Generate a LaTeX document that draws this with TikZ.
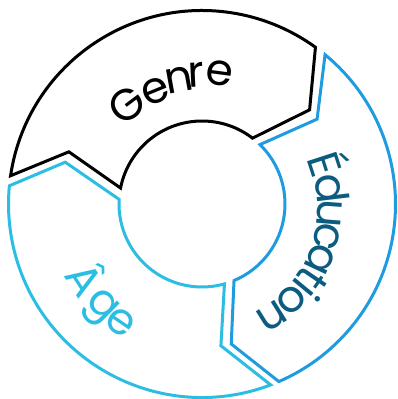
\documentclass[tikz,border=0pt]{standalone}
\usepackage{fontspec}
\newfontfamily\ringfont{Poppins}
\definecolor{educol}{RGB}{31,155,224}
\definecolor{agecol}{RGB}{44,190,226}
\definecolor{edutxt}{RGB}{12,92,128}
\tikzset{
  seg/.style={line width=3pt,line join=miter},
  letter/.style={anchor=base,inner sep=0pt,font=\ringfont\fontsize{44}{44}\selectfont}
}
\begin{document}
\begin{tikzpicture}[x=1pt,y=1pt]
\useasboundingbox (-202,-195) rectangle (196,204);
\draw[seg,black](171.6:193.5)arc[start angle=171.6,end angle=54.1,radius=193.5]--(41.2:143)--(52.5:83)arc[start angle=52.5,end angle=168.9,radius=83]--(158.6:143)--cycle;
\draw[seg,educol](50.5:193.5)arc[start angle=50.5,end angle=-66.6,radius=193.5]--(-78.2:143)--(-67.3:83)arc[start angle=-67.3,end angle=45.7,radius=83]--(36.4:143)--cycle;
\draw[seg,agecol](-69.2:193.5)arc[start angle=-69.2,end angle=-185.4,radius=193.5]--(-197:143)--(-183.2:83)arc[start angle=-183.2,end angle=-74.3,radius=83]--(-82.4:143)--cycle;
\foreach \ch/\ang/\rad [count=\i] in {G/127/109,e/112.3/109.5,n/100.4/114,r/92.8/117,e/82.5/120}
  \node[letter,text=black,rotate=\ang-90](genre\i) at (\ang:\rad){\ch};
\foreach \ch/\ang/\rad [count=\i] in {É/18/114,d/6.8/115,u/-4.4/116,c/-14.6/117,a/-25.2/118,t/-34.2/118.5,i/-39.5/119,o/-47.1/119.5,n/-58/120}
  \node[letter,text=edutxt,rotate=\ang-90](edu\i) at (\ang:\rad){\ch};
\foreach \ch/\ang/\rad [count=\i] in {Â/212.8/155,g/225.5/153,e/235.5/155}
  \node[letter,text=agecol,rotate=\ang+90](age\i) at (\ang:\rad){\ch};
\end{tikzpicture}
\end{document}
